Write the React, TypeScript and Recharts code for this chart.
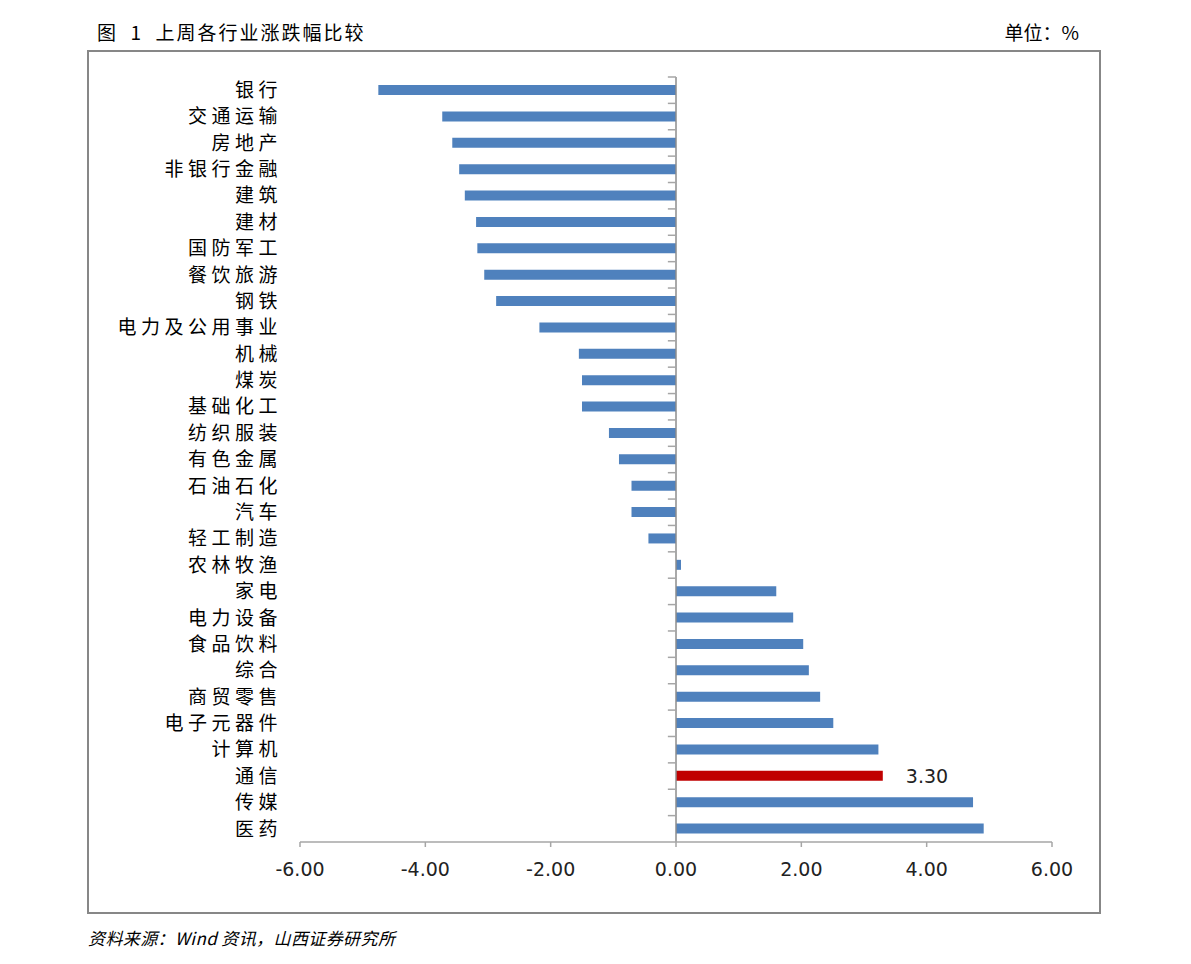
import React from 'react';
import { BarChart, Bar, XAxis, YAxis, Cell, LabelList, ReferenceLine } from 'recharts';

const categories = [
  '银行', '交通运输', '房地产', '非银行金融', '建筑', '建材', '国防军工', '餐饮旅游', '钢铁',
  '电力及公用事业', '机械', '煤炭', '基础化工', '纺织服装', '有色金属', '石油石化', '汽车',
  '轻工制造', '农林牧渔', '家电', '电力设备', '食品饮料', '综合', '商贸零售', '电子元器件',
  '计算机', '通信', '传媒', '医药',
];

const changes = [
  -4.75, -3.73, -3.57, -3.46, -3.37, -3.19, -3.17, -3.06, -2.87,
  -2.18, -1.55, -1.5, -1.5, -1.07, -0.91, -0.71, -0.71,
  -0.44, 0.08, 1.6, 1.87, 2.03, 2.12, 2.3, 2.51,
  3.23, 3.3, 4.74, 4.91,
];

const highlighted = ['通信'];
const xTicks = [-6, -4, -2, 0, 2, 4, 6];

const BLUE = '#4F81BD';
const RED = '#C00000';
const CJK = '"Noto Sans CJK SC", "Noto Sans", sans-serif';
const NUM = '"DejaVu Sans", Verdana, sans-serif';

const data = categories.map((name, i) => ({
  name,
  value: changes[i],
  label: highlighted.includes(name) ? changes[i].toFixed(2) : undefined,
}));

export default function App() {
  return (
    <div style={{ position: 'absolute', left: 0, top: 0, width: 1191, height: 964, background: '#fff' }}>
      <div style={{ position: 'absolute', left: 97, top: 18, fontFamily: CJK, fontSize: 19, letterSpacing: 2, color: '#000', whiteSpace: 'nowrap' }}>
        图&nbsp;&nbsp;1&nbsp;&nbsp;上周各行业涨跌幅比较
      </div>
      <div style={{ position: 'absolute', right: 1191 - 1079, top: 18, fontFamily: CJK, fontSize: 19, color: '#000', whiteSpace: 'nowrap' }}>
        单位：%
      </div>
      <div style={{ position: 'absolute', left: 87, top: 50, width: 1010, height: 860, border: '2px solid #878787' }} />
      <div style={{ position: 'absolute', left: 88, top: 925, fontFamily: CJK, fontSize: 17, letterSpacing: 0.4, fontStyle: 'italic', color: '#000', whiteSpace: 'nowrap' }}>
        资料来源：Wind 资讯，山西证券研究所
      </div>

      <div style={{ position: 'absolute', left: 0, top: 0 }}>
        <BarChart
          width={1191}
          height={964}
          data={data}
          layout="vertical"
          margin={{ top: 77, right: 139, bottom: 82, left: 0 }}
        >
          <XAxis
            type="number"
            domain={[-6, 6]}
            ticks={xTicks}
            tickFormatter={(v: number) => v.toFixed(2)}
            axisLine={{ stroke: '#A6A6A6', strokeWidth: 1.5 }}
            tickLine={{ stroke: '#A6A6A6', strokeWidth: 1.5 }}
            tickSize={5}
            tickMargin={16}
            height={40}
            tick={{ fill: '#222', fontSize: 19, fontFamily: NUM }}
          />
          <YAxis
            type="category"
            dataKey="name"
            width={300}
            axisLine={false}
            tickLine={false}
            tickSize={0}
            tickMargin={18}
            interval={0}
            tick={{ fill: '#000', fontSize: 19, fontFamily: CJK, letterSpacing: 4.5 }}
          />
          <ReferenceLine x={0} stroke="#8C8C8C" strokeWidth={1.5} ifOverflow="visible" />
          {categories.map((name) => (
            <ReferenceLine
              key={name}
              position="start"
              segment={[{ x: -0.13, y: name }, { x: 0, y: name }]}
              stroke="#A6A6A6"
              strokeWidth={1.5}
              ifOverflow="visible"
            />
          ))}
          <Bar dataKey="value" barSize={10} isAnimationActive={false}>
            {data.map((d) => (
              <Cell key={d.name} fill={highlighted.includes(d.name) ? RED : BLUE} />
            ))}
            <LabelList
              dataKey="label"
              position="right"
              offset={23}
              style={{ fill: '#222', fontSize: 19, fontFamily: NUM }}
            />
          </Bar>
        </BarChart>
      </div>
    </div>
  );
}
